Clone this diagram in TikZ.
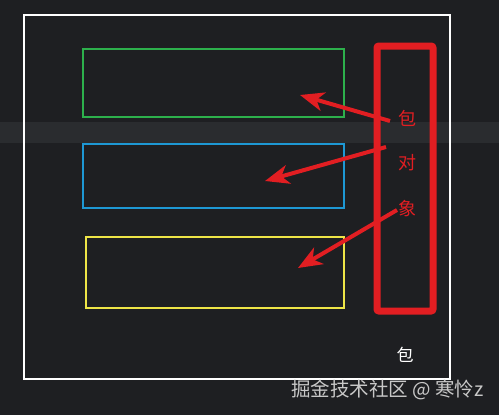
\documentclass[tikz,border=0pt]{standalone}
\usepackage{fontspec}
\setmainfont{Noto Sans CJK SC}
\usetikzlibrary{arrows.meta}
\definecolor{bgdark}{HTML}{1E1F22}
\definecolor{bgband}{HTML}{2A2C2F}
\definecolor{boxgreen}{HTML}{2DB04C}
\definecolor{boxblue}{HTML}{1E98D4}
\definecolor{boxyellow}{HTML}{EEE547}
\definecolor{markred}{HTML}{E21E22}
\definecolor{markgray}{HTML}{C8C8C8}
\tikzset{
  slot/.style={draw, line width=1.5pt, minimum width=261pt, inner sep=0pt},
  pointer/.style={markred, line width=4pt, -{Stealth[length=24pt,width=19pt,inset=7pt]}},
  redtext/.style={markred, font=\fontsize{18}{18}\selectfont}
}
\begin{document}
\begin{tikzpicture}[x=1pt,y=-1pt]
    \fill[bgdark] (0,0) rectangle (499,415);
    \useasboundingbox (0,0) rectangle (499,415);
    \fill[bgband] (0,122) rectangle (499,143);
    \draw[white, line width=2pt] (24,15) rectangle (450,379);

    \node[slot, boxgreen, minimum height=68pt] (func) at (213.5,83) {};
    \node[slot, boxblue, minimum height=64pt] (obj) at (213.5,176) {};
    \node[slot, boxyellow, minimum width=258pt, minimum height=71pt] (arr) at (215,272.5) {};

    \draw[markred, line width=7pt, rounded corners=2pt] (377,46) rectangle (433,311);

    \node[redtext] (bao) at (407,118) {包};
    \node[redtext] (dui) at (407,163) {对};
    \node[redtext] (xiang) at (407,209) {象};

    \coordinate (tipa) at (300,95);
    \coordinate (tipb) at (265,181);
    \coordinate (tipc) at (298,268);
    \draw[pointer] (390,121) coordinate (taila) -- (tipa);
    \draw[pointer] (386,147) coordinate (tailb) -- (tipb);
    \draw[pointer] (397,210) coordinate (tailc) -- (tipc);

    \node[white, font=\fontsize{17}{17}\selectfont] (outer) at (405,355) {包};
    \node[markgray, font=\fontsize{19.5}{19.5}\selectfont, anchor=east] (mark) at (487,390) {掘金技术社区 @ 寒怜z};
  \end{tikzpicture}
\end{document}
